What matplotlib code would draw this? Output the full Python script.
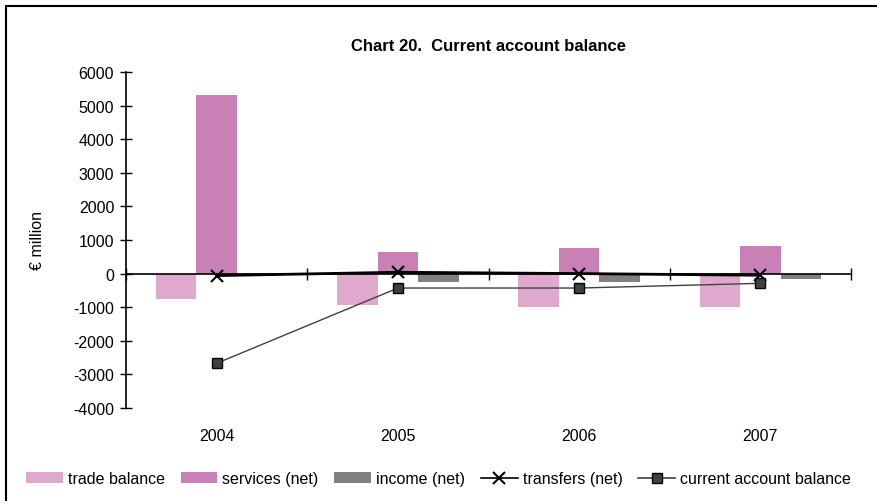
import numpy as np
import matplotlib
matplotlib.use('Agg')
import matplotlib.pyplot as plt
from matplotlib.patches import Rectangle
from matplotlib.lines import Line2D

plt.rcParams['font.family'] = ['Liberation Sans', 'DejaVu Sans']
plt.rcParams['font.size'] = 11.5
plt.rcParams['axes.unicode_minus'] = False

years = ['2004', '2005', '2006', '2007']
trade_balance = [-755, -925, -985, -985]
services_net = [5315, 650, 760, 830]
income_net = [0, -240, -240, -160]
transfers_net = [-60, 40, 0, -50]
current_account = [-2670, -430, -430, -290]

fig = plt.figure(figsize=(8.77, 5.02), dpi=100)
ax = fig.add_axes([0.1437, 0.1853, 0.8267, 0.6693])

x = np.arange(len(years))
w = 0.2235
b1 = ax.bar(x - w, trade_balance, w, color='#DFA8CC', label='trade balance', zorder=2)
b2 = ax.bar(x, services_net, w, color='#C880B6', label='services (net)', zorder=2)
b3 = ax.bar(x + w, income_net, w, color='#808080', label='income (net)', zorder=2)
ax.plot(x, transfers_net, color='black', lw=2, marker='x', ms=9, mew=1.5, zorder=4)
ax.plot(x, current_account, color='#404040', lw=1, marker='s', ms=7,
        mfc='#404040', mec='black', mew=1, zorder=5)

ax.set_xlim(-0.5, len(years) - 0.5)
ax.set_ylim(-4000, 6000)
ax.set_yticks(range(-4000, 6001, 1000))
ax.set_xticks(np.arange(-0.5, len(years), 1.0))
ax.set_xticklabels([])
ax.tick_params(axis='both', direction='inout', length=9, width=1, color='black', labelsize=11.5)
ax.tick_params(axis='y', pad=4)

ax.spines['top'].set_visible(False)
ax.spines['right'].set_visible(False)
ax.spines['bottom'].set_position(('data', 0))
ax.spines['bottom'].set_zorder(3)
ax.spines['left'].set_linewidth(1.2)
ax.spines['bottom'].set_linewidth(1.2)

for i, yr in enumerate(years):
    ax.text(i, -0.083, yr, transform=ax.get_xaxis_transform(), ha='center', va='center', fontsize=11.5)

ax.set_ylabel('€ million', fontsize=11.5, labelpad=20)
ax.set_title('Chart 20.  Current account balance', fontsize=12, fontweight='bold', pad=16)

l1 = Line2D([], [], color='black', lw=1.2, marker='x', ms=8, mew=1.5, label='transfers (net)')
l2 = Line2D([], [], color='#404040', lw=1.2, marker='s', ms=7, mfc='#404040', mec='black',
            mew=1, label='current account balance')
fig.legend(handles=[b1, b2, b3, l1, l2], loc='center', bbox_to_anchor=(0.5, 0.044), ncol=5,
           frameon=False, fontsize=11.5, handlelength=2.3, handletextpad=0.3, columnspacing=1.0)

fig.patches.append(Rectangle((6 / 877, -0.1), 1.2, 1.1 - 7 / 502, transform=fig.transFigure,
                             fill=False, edgecolor='black', lw=1.5))

fig.savefig('out.png', dpi=100)
